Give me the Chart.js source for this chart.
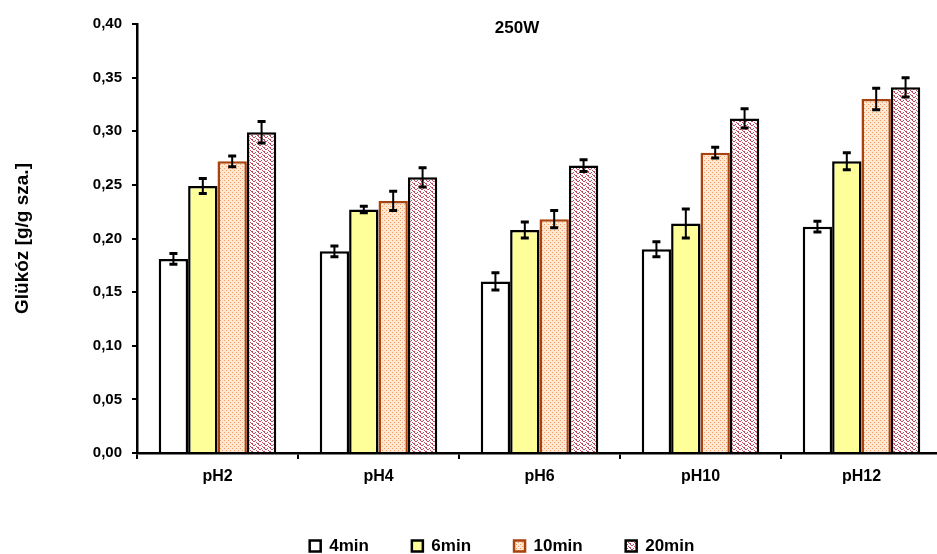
<!DOCTYPE html>
<html>
<head>
<meta charset="utf-8">
<script src="https://cdn.jsdelivr.net/npm/chart.js@4.4.1/dist/chart.umd.min.js"></script>
<style>
  html, body { margin: 0; padding: 0; background: #fff; overflow: hidden; }
  canvas { display: block; }
</style>
</head>
<body>
<canvas id="chart" width="942" height="554"></canvas>
<script>
const categories = ["pH2", "pH4", "pH6", "pH10", "pH12"];
const seriesNames = ["4min", "6min", "10min", "20min"];

const min4 = [0.181, 0.188, 0.160, 0.190, 0.211];
const min6 = [0.249, 0.227, 0.208, 0.214, 0.272];
const min10 = [0.272, 0.235, 0.218, 0.280, 0.330];
const min20 = [0.299, 0.257, 0.268, 0.312, 0.341];

// error (+/-) values
const err4 = [0.005, 0.005, 0.008, 0.007, 0.005];
const err6 = [0.007, 0.003, 0.0075, 0.0135, 0.008];
const err10 = [0.005, 0.009, 0.008, 0.005, 0.010];
const err20 = [0.010, 0.009, 0.0055, 0.009, 0.009];

const FONT = "'Liberation Sans', Arial, sans-serif";

function makePattern(w, h, bg, fg, pixels) {
    let c = document.createElement("canvas");
    c.width = w; c.height = h;
    let ctx = c.getContext("2d");
    ctx.fillStyle = bg;
    ctx.fillRect(0, 0, w, h);
    ctx.fillStyle = fg;
    pixels.forEach(p => ctx.fillRect(p[0], p[1], 1, 1));
    return document.getElementById("chart").getContext("2d").createPattern(c, "repeat");
}

// dotted peach and wavy pink fills
const peach = makePattern(4, 4, "#FFE8D2", "#F09A66", [[0, 0], [2, 2]]);
const wavy = makePattern(6, 4, "#FFFFFF", "#C4485C", [[0, 0], [1, 1], [2, 1], [3, 0], [4, 2], [5, 3], [0, 3]]);

const errorBars = {
    id: "errorBars",
    afterDatasetsDraw(chart) {
        const ctx = chart.ctx;
        const y = chart.scales.y;
        ctx.save();
        ctx.strokeStyle = "#000";
        chart.data.datasets.forEach((ds, i) => {
            const meta = chart.getDatasetMeta(i);
            meta.data.forEach((bar, j) => {
                const v = ds.data[j], e = ds.errors[j];
                const top = y.getPixelForValue(v + e);
                const bot = y.getPixelForValue(v - e);
                ctx.lineWidth = 2;
                ctx.beginPath();
                ctx.moveTo(bar.x, top);
                ctx.lineTo(bar.x, bot);
                ctx.stroke();
                ctx.lineWidth = 3;
                ctx.beginPath();
                ctx.moveTo(bar.x - 4, top);
                ctx.lineTo(bar.x + 4, top);
                ctx.moveTo(bar.x - 4, bot);
                ctx.lineTo(bar.x + 4, bot);
                ctx.stroke();
            });
        });
        ctx.restore();
    }
};

const titleText = {
    id: "titleText",
    afterDraw(chart) {
        const ctx = chart.ctx;
        ctx.save();
        ctx.font = "bold 17px " + FONT;
        ctx.fillStyle = "#000";
        ctx.textAlign = "center";
        ctx.textBaseline = "middle";
        ctx.fillText("250W", 517, 28);
        ctx.restore();
    }
};

const legendMove = {
    id: "legendMove",
    afterLayout(chart) {
        const lg = chart.legend;
        lg.left += 31;
        lg.right += 31;
        const h = lg.bottom - lg.top;
        lg.top = 546 - 43 - 8.5;
        lg.bottom = lg.top + h;
    }
};

new Chart(document.getElementById("chart").getContext("2d"), {
    type: "bar",
    data: {
        labels: categories,
        datasets: [
            { label: seriesNames[0], data: min4, errors: err4, backgroundColor: "#FFFFFF", borderColor: "#000000" },
            { label: seriesNames[1], data: min6, errors: err6, backgroundColor: "#FFFF99", borderColor: "#000000" },
            { label: seriesNames[2], data: min10, errors: err10, backgroundColor: peach, borderColor: "#A8420E" },
            { label: seriesNames[3], data: min20, errors: err20, backgroundColor: wavy, borderColor: "#000000" }
        ]
    },
    options: {
        responsive: false,
        animation: false,
        layout: { padding: { top: 24, left: 0, right: 0, bottom: 0 } },
        datasets: {
            bar: { categoryPercentage: 0.73, barPercentage: 1.0, borderWidth: 2.5, borderSkipped: "bottom" }
        },
        scales: {
            x: {
                afterFit(scale) { scale.height = 31; },
                grid: { display: true, drawOnChartArea: false, drawTicks: true, tickLength: 6, color: "#000", lineWidth: 2 },
                border: { display: true, color: "#000", width: 2.5 },
                ticks: { color: "#000", padding: 8, font: { family: FONT, size: 16, weight: "bold" } }
            },
            y: {
                min: 0,
                max: 0.4,
                afterFit(scale) { scale.width = 137; },
                grid: { display: true, drawOnChartArea: false, drawTicks: true, tickLength: 5, color: "#000", lineWidth: 2 },
                border: { display: true, color: "#000", width: 2.5 },
                ticks: {
                    stepSize: 0.05,
                    color: "#000",
                    padding: 10,
                    font: { family: FONT, size: 15, weight: "bold" },
                    callback: v => v.toFixed(2).replace(".", ",")
                },
                title: {
                    display: true,
                    text: "Glükóz [g/g sza.]",
                    color: "#000",
                    padding: { top: 11, bottom: 0 },
                    font: { family: FONT, size: 19, weight: "bold" }
                }
            }
        },
        plugins: {
            title: { display: false },
            tooltip: { enabled: false },
            legend: {
                position: "bottom",
                labels: {
                    color: "#000",
                    boxWidth: 11,
                    boxHeight: 11,
                    padding: 43,
                    font: { family: FONT, size: 17, weight: "bold" }
                }
            }
        }
    },
    plugins: [errorBars, titleText, legendMove]
});
</script>
</body>
</html>
